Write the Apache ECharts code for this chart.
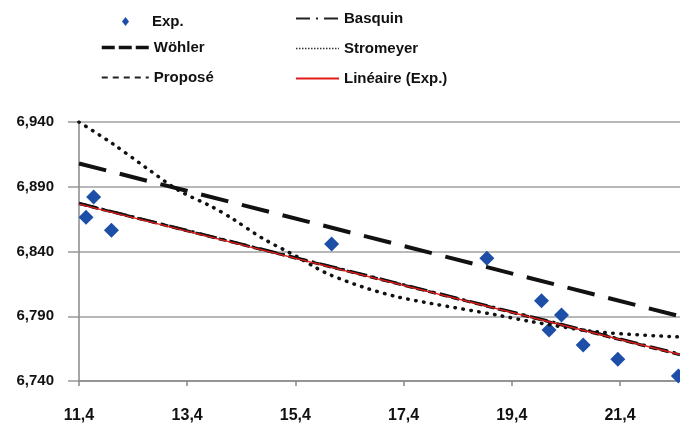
<!DOCTYPE html>
<html><head><meta charset="utf-8">
<script src="https://cdn.jsdelivr.net/npm/echarts@6/dist/echarts.min.js"></script>
<style>html,body{margin:0;padding:0;background:#fff}#c{width:680px;height:427px}</style>
</head><body><div id="c"></div>
<script>
// Experimental points
const expX = [11.53, 11.67, 12.00, 16.07, 18.94, 19.95, 20.09, 20.32, 20.72, 21.36, 22.48];
const expY = [6.8665, 6.882, 6.8565, 6.8457, 6.8347, 6.802, 6.7794, 6.791, 6.7678, 6.7567, 6.7439];
// Model curves
const wohlerX = [11.4, 22.51];
const wohlerY = [6.908, 6.790];
const basquinX = [11.4, 22.51];
const basquinY = [6.8772, 6.7608];
const proposeX = [11.4, 22.51];
const proposeY = [6.877, 6.7603];
const lineaireX = [11.4, 22.51];
const lineaireY = [6.8766, 6.7605];
const stromX = [11.4, 12.02, 12.63, 13.25, 13.86, 14.25, 14.80, 15.43, 15.80, 16.04, 16.65, 17.28, 17.89, 19.12, 19.74, 20.97, 22.51];
const stromY = [6.940, 6.9233, 6.905, 6.887, 6.8745, 6.865, 6.850, 6.836, 6.827, 6.822, 6.8125, 6.805, 6.800, 6.791, 6.786, 6.778, 6.774];
// Axis ticks
const xMin = 11.4, xMax = 22.51, xStep = 2;
const yMin = 6.74, yMax = 6.94, yStep = 0.05;

const zip = (xs, ys) => xs.map((x, i) => [x, ys[i]]);
const font = 'Liberation Sans';
const chart = echarts.init(document.getElementById('c'), null, {renderer: 'canvas'});
const lblFmt = d => v => v.toFixed(d).replace('.', ',');
const legText = {fontSize: 15, fontWeight: 'bold', color: '#111', fontFamily: font};
chart.setOption({
  animation: false,
  backgroundColor: '#fff',
  textStyle: {fontFamily: font},
  grid: {left: 79, top: 122, right: 0, bottom: 46, containLabel: false},
  legend: [
    {orient: 'vertical', left: 122, top: 14, padding: 0, itemWidth: 7, itemHeight: 9,
     textStyle: Object.assign({padding: [0, 0, 0, 18]}, legText),
     data: [{name: 'Exp.', icon: 'diamond'}]},
    {orient: 'vertical', left: 100, top: 40, padding: 0, itemWidth: 47, itemHeight: 14, itemGap: 15,
     itemStyle: {opacity: 0}, textStyle: legText,
     data: [
       {name: 'Wöhler', lineStyle: {type: [13, 4], width: 3.5, color: '#111'}},
       {name: 'Proposé', lineStyle: {type: [6, 5], width: 2, color: '#222'}}
     ]},
    {orient: 'vertical', left: 295, top: 11, padding: 0, itemWidth: 43, itemHeight: 14, itemGap: 15,
     itemStyle: {opacity: 0}, textStyle: legText,
     data: [
       {name: 'Basquin', lineStyle: {type: [14, 6, 2, 6], width: 2, color: '#222'}},
       {name: 'Stromeyer', lineStyle: {type: [1.5, 1.5], width: 1.5, color: '#333', cap: 'butt'}},
       {name: 'Linéaire (Exp.)', lineStyle: {width: 2, color: '#e21b1b'}}
     ]}
  ],
  xAxis: {
    type: 'value', min: xMin, max: xMax, interval: xStep,
    axisLine: {lineStyle: {color: '#888', width: 1.5}},
    axisTick: {show: true, length: 5, lineStyle: {color: '#888', width: 1.5}},
    splitLine: {show: false},
    axisLabel: {formatter: lblFmt(1), fontSize: 16, fontWeight: 'bold', color: '#111', margin: 27, showMaxLabel: false}
  },
  yAxis: {
    type: 'value', min: yMin, max: yMax, interval: yStep,
    axisLine: {show: true, lineStyle: {color: '#888', width: 1.5}},
    axisTick: {show: true, length: 11, lineStyle: {color: '#999', width: 1.5}},
    splitLine: {show: true, lineStyle: {color: '#a0a0a0', width: 1.5}},
    axisLabel: {formatter: lblFmt(3), fontSize: 15, fontWeight: 'bold', color: '#111', margin: 25}
  },
  series: [
    {name: 'Exp.', type: 'scatter', data: zip(expX, expY), symbol: 'diamond', symbolSize: 15,
     itemStyle: {color: '#1d4fa8', opacity: 1}, z: 2},
    {name: 'Stromeyer', type: 'line', data: zip(stromX, stromY), smooth: 0.3, showSymbol: false, symbol: 'none',
     lineStyle: {color: '#111', width: 3.5, type: [0.5, 7.5], cap: 'round'}, itemStyle: {color: '#111'}, z: 3},
    {name: 'Wöhler', type: 'line', data: zip(wohlerX, wohlerY), showSymbol: false, symbol: 'none',
     lineStyle: {color: '#111', width: 4, type: [28, 14]}, itemStyle: {color: '#111'}, z: 3},
    {name: 'Basquin', type: 'line', data: zip(basquinX, basquinY), showSymbol: false, symbol: 'none',
     lineStyle: {color: '#111', width: 3, type: [18, 5, 3, 5]}, itemStyle: {color: '#111'}, z: 3},
    {name: 'Proposé', type: 'line', data: zip(proposeX, proposeY), showSymbol: false, symbol: 'none',
     lineStyle: {color: '#111', width: 3, type: [8, 4]}, itemStyle: {color: '#111'}, z: 3},
    {name: 'Linéaire (Exp.)', type: 'line', data: zip(lineaireX, lineaireY), showSymbol: false, symbol: 'none',
     lineStyle: {color: '#e21b1b', width: 1.5}, itemStyle: {color: '#e21b1b'}, z: 4}
  ]
});
</script></body></html>
